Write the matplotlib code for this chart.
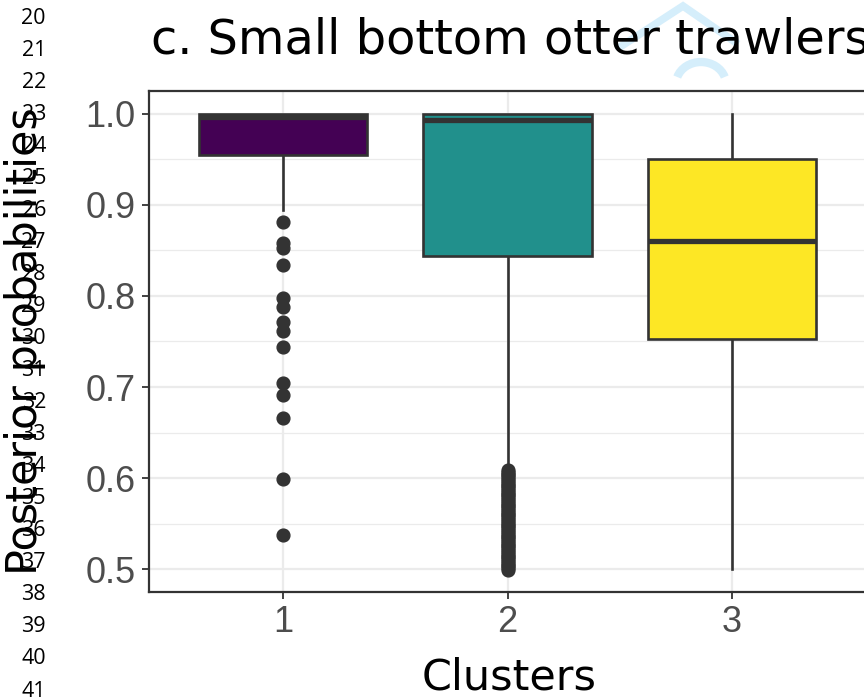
import matplotlib
matplotlib.use("Agg")
import matplotlib.pyplot as plt
from matplotlib.lines import Line2D
from matplotlib.patches import Arc

# ---------------- data ----------------
clusters = ["1", "2", "3"]
box_colors = ["#440154", "#21908C", "#FDE725"]
q1 = [0.955, 0.8435, 0.753]
medians = [0.996, 0.993, 0.860]
q3 = [1.000, 1.000, 0.950]
whisker_low = [0.894, 0.612, 0.500]
whisker_high = [1.000, 1.000, 1.000]
outliers_1 = [0.881, 0.858, 0.853, 0.834, 0.798, 0.788, 0.771, 0.761,
              0.744, 0.704, 0.691, 0.666, 0.599, 0.538]
outliers_2 = [0.609, 0.607, 0.605, 0.603, 0.601, 0.599, 0.597, 0.595,
              0.593, 0.591, 0.589, 0.587, 0.585, 0.583, 0.581, 0.579,
              0.577, 0.575, 0.573, 0.571, 0.569, 0.567, 0.565, 0.563,
              0.561, 0.559, 0.557, 0.555, 0.553, 0.551, 0.549, 0.547,
              0.545, 0.543, 0.541, 0.539, 0.537, 0.535, 0.533, 0.531,
              0.529, 0.527, 0.525, 0.523, 0.521, 0.519, 0.517, 0.515,
              0.513, 0.511, 0.509, 0.507, 0.505, 0.503, 0.501, 0.499]
outliers_3 = []
y_ticks = [0.5, 0.6, 0.7, 0.8, 0.9, 1.0]
y_tick_labels = ["0.5", "0.6", "0.7", "0.8", "0.9", "1.0"]
y_minor = [0.55, 0.65, 0.75, 0.85, 0.95]
line_numbers = list(range(20, 42))

title = "c. Small bottom otter trawlers"
x_title = "Clusters"
y_title = "Posterior probabilities"

# ---------------- figure ----------------
W, H = 864, 699
fig = plt.figure(figsize=(W / 100, H / 100), dpi=100)

def fx(px):
    return px / W

def fy(py):
    return 1 - py / H

ax = fig.add_axes([fx(149), fy(592), (866 - 149) / W, (592 - 91) / H])

stats = []
fl = [outliers_1, outliers_2, outliers_3]
for i in range(3):
    stats.append(dict(label=clusters[i], q1=q1[i], med=medians[i], q3=q3[i],
                      whislo=whisker_low[i], whishi=whisker_high[i],
                      fliers=fl[i]))

dark = "#333333"
bp = ax.bxp(stats, positions=[1, 2, 3], widths=0.75, patch_artist=True,
            showcaps=False,
            boxprops=dict(edgecolor=dark, linewidth=1.9),
            medianprops=dict(color=dark, linewidth=3.8, solid_capstyle="butt"),
            whiskerprops=dict(color=dark, linewidth=1.9),
            flierprops=dict(marker="o", markerfacecolor=dark,
                            markeredgecolor=dark, markersize=9.2,
                            linestyle="none"))
for patch, c in zip(bp["boxes"], box_colors):
    patch.set_facecolor(c)
for line in bp["whiskers"]:
    line.set_zorder(1.5)

ax.set_xlim(0.4, 3.6)
ax.set_ylim(0.475, 1.025)
ax.set_yticks(y_ticks)
ax.set_yticklabels(y_tick_labels)
ax.set_yticks(y_minor, minor=True)
ax.set_xticks([1, 2, 3])
ax.set_xticklabels(clusters)

ax.set_axisbelow(True)
ax.grid(which="major", axis="both", color="#EBEBEB", linewidth=1.6)
ax.grid(which="minor", axis="y", color="#EBEBEB", linewidth=0.9)
ax.tick_params(which="minor", length=0)
ax.tick_params(which="major", length=4.7, width=1.3, color=dark,
               labelsize=26, labelcolor="#4D4D4D", pad=5.0)
for lab in ax.get_xticklabels() + ax.get_yticklabels():
    lab.set_fontfamily("Liberation Sans")
for s in ax.spines.values():
    s.set_color(dark)
    s.set_linewidth(1.6)

# titles
fig.text(fx(151), fy(54), title, fontsize=34.5, family="DejaVu Sans",
         ha="left", va="baseline", color="black")
fig.text(fx(509), fy(689), x_title, fontsize=31, family="DejaVu Sans",
         ha="center", va="baseline", color="black")
fig.text(fx(25), fy(341.5), y_title, fontsize=31, family="DejaVu Sans",
         ha="center", va="center", rotation=90, color="black")

# line numbers of the page
for i, n in enumerate(line_numbers):
    fig.text(fx(46), fy(18 + 32.05 * i), str(n), fontsize=15.5,
             family="Open Sans", ha="right", va="center", color="black")

# faint watermark
wm = "#D5EEFB"
fig.add_artist(Line2D([fx(620), fx(683), fx(735)], [fy(47), fy(6), fy(42)],
                      color=wm, linewidth=5.5, zorder=0,
                      transform=fig.transFigure, solid_joinstyle="miter"))
fig.add_artist(Arc((fx(701), fy(84)), 50 / W, 44 / H, theta1=20, theta2=160,
                   color=wm, linewidth=6, transform=fig.transFigure,
                   zorder=0))

fig.savefig("out.png", dpi=100)
